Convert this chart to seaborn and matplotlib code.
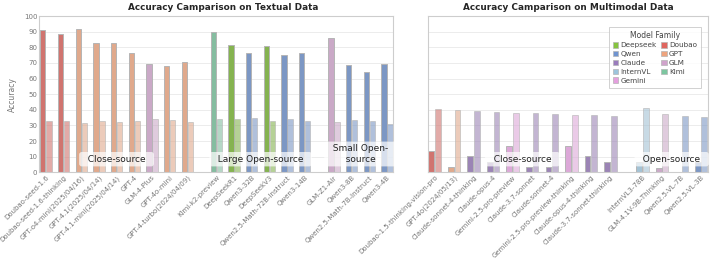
import numpy as np
import pandas as pd
import seaborn as sns
import matplotlib
matplotlib.use("Agg")
import matplotlib.pyplot as plt
from matplotlib.patches import Patch

sns.set_theme(style="whitegrid")
plt.rcParams["font.family"] = ["DejaVu Sans"]

# ---- textual benchmark ----
text_models = ["Doubao-seed-1.6", "Doubao-seed-1.6-thinking", "GPT-o4-mini(2025/04/16)",
               "GPT-4.1(2025/04/14)", "GPT-4.1-mini(2025/04/14)", "GPT-4", "GLM-4-Plus",
               "GPT-4o-mini", "GPT-4-turbo(2024/04/09)",
               "Kimi-k2-preview", "DeepSeekR1", "Qwen3-32B", "DeepSeekV3",
               "Qwen2.5-Math-72B-Instruct", "Qwen3-14B",
               "GLM-Z1-Air", "Qwen3-8B", "Qwen2.5-Math-7B-Instruct", "Qwen3-4B"]
text_family = ["Doubao", "Doubao", "GPT", "GPT", "GPT", "GPT", "GLM", "GPT", "GPT",
               "Kimi", "Deepseek", "Qwen", "Deepseek", "Qwen", "Qwen",
               "GLM", "Qwen", "Qwen", "Qwen"]
text_group = [0] * 9 + [1] * 6 + [2] * 4
text_dark = [90.8, 88.5, 91.7, 82.5, 82.5, 76.1, 69.5, 68.2, 70.6,
             89.8, 81.4, 76.5, 80.8, 75.0, 76.1,
             85.7, 68.7, 64.2, 69.3]
text_light = [33.0, 33.0, 31.3, 32.6, 32.4, 32.6, 33.9, 33.3, 32.4,
              33.9, 33.9, 34.9, 32.8, 33.9, 33.0,
              32.0, 33.7, 33.0, 30.9]
text_groups = ["Close-source", "Large Open-source", "Small Open-\nsource"]

# ---- multimodal benchmark ----
mm_models = ["Doubao-1.5-thinking-vision-pro", "GPT-4o(2024/05/13)", "Claude-sonnet-4-thinking",
             "Claude-opus-4", "Gemini-2.5-pro-preview", "Claude-3.7-sonnet", "Claude-sonnet-4",
             "Gemini-2.5-pro-preview-thinking", "Claude-opus-4-thinking",
             "Claude-3.7-sonnet-thinking",
             "InternVL3-78B", "GLM-4.1V-9B-Thinking", "Qwen2.5-VL-7B", "Qwen2.5-VL-3B"]
mm_family = ["Doubao", "GPT", "Claude", "Claude", "Gemini", "Claude", "Claude",
             "Gemini", "Claude", "Claude",
             "InternVL", "GLM", "Qwen", "Qwen"]
mm_group = [0] * 10 + [1] * 4
mm_dark = [13.6, 3.6, 10.2, 6.8, 16.8, 3.4, 3.4, 17.0, 10.4, 6.8,
           6.8, 2.5, 0.5, 6.8]
mm_light = [40.5, 40.1, 39.2, 38.8, 37.7, 37.7, 37.5, 36.7, 36.7, 36.0,
            41.3, 37.1, 36.2, 35.2]
mm_groups = ["Close-source", "Open-source"]

family_colors = {
    "Deepseek": "#86c43f", "Doubao": "#e0665f", "Qwen": "#7094d0", "GPT": "#eea47e",
    "Claude": "#9a7cbd", "GLM": "#d0a3cb", "InternVL": "#9cc4dc", "Kimi": "#7cc6a0",
    "Gemini": "#e59fdf",
}
legend_order = ["Deepseek", "Qwen", "Claude", "InternVL", "Gemini",
                "Doubao", "GPT", "GLM", "Kimi"]

GAP = 0.65
OFF = 0.17
EDGE = "#b5b5b5"
TXT = "#777777"


def draw(ax, models, family, groups, dark, light, group_names, title, title_x=0.5):
    pos = np.arange(len(models)) + GAP * np.asarray(groups)
    df = pd.DataFrame({"pos": pos, "family": family, "dark": dark, "light": light})
    kw = dict(hue="family", palette=family_colors, native_scale=True, dodge=False,
              width=0.3, errorbar=None, edgecolor=EDGE, linewidth=0.7,
              legend=False, ax=ax)
    sns.barplot(data=df.assign(x=df["pos"] - OFF), x="x", y="dark", **kw)
    sns.barplot(data=df.assign(x=df["pos"] + OFF), x="x", y="light", alpha=0.6, **kw)

    ax.set_xlim(pos[0] - 0.36, pos[-1] + 0.36)
    ax.set_ylim(0, 100)
    ax.set_yticks(range(0, 101, 10))
    ax.set_xticks(pos)
    ax.set_xticklabels(models, rotation=45, ha="right", rotation_mode="anchor")
    ax.xaxis.grid(False)
    ax.tick_params(axis="both", labelsize=5, labelcolor=TXT, length=0, pad=1.5)
    ax.set_xlabel("")
    ax.set_title(title, fontsize=6.4, fontweight="bold", pad=4, x=title_x)

    for g, name in enumerate(group_names):
        cx = pos[np.asarray(groups) == g].mean()
        label = "\n".join("  " + line + "  " for line in name.split("\n"))
        ax.text(cx, 5.5, label, ha="center", va="bottom", fontsize=6.5, color="#222222",
                bbox=dict(boxstyle="round,pad=0.3", fc="white", ec="none", alpha=0.7),
                zorder=5)
    return pos


fig = plt.figure(figsize=(7.14, 2.69), dpi=100)
ax1 = fig.add_axes([0.0553, 0.3595, 0.4956, 0.581])
ax2 = fig.add_axes([0.599, 0.3595, 0.3926, 0.581])

draw(ax1, text_models, text_family, text_group, text_dark, text_light,
     text_groups, "Accuracy Camparison on Textual Data", title_x=0.52)
ax1.set_ylabel("Accuracy", fontsize=5.5, color=TXT, labelpad=5)

draw(ax2, mm_models, mm_family, mm_group, mm_dark, mm_light,
     mm_groups, "Accuracy Camparison on Multimodal Data")
ax2.set_ylabel("")
ax2.set_yticklabels([])

for ax in (ax1, ax2):
    for s in ax.spines.values():
        s.set_color("#cdcdcd")
        s.set_linewidth(0.8)
    ax.yaxis.grid(True, color="#ececec", linewidth=0.7)

handles = [Patch(facecolor=family_colors[f], edgecolor=EDGE, linewidth=0.5, label=f)
           for f in legend_order]
leg = ax2.legend(handles=handles, title="Model Family", ncol=2, fontsize=5.2,
                 title_fontsize=5.5, loc="upper right", bbox_to_anchor=(0.988, 0.955),
                 frameon=True, fancybox=False, handlelength=0.8, handleheight=0.8,
                 columnspacing=0.6, handletextpad=0.3, labelspacing=0.35, borderpad=0.55)
leg.get_frame().set_edgecolor("#c5c5c5")
leg.get_frame().set_linewidth(0.7)
for t in leg.get_texts():
    t.set_color("#444444")
leg.get_title().set_color("#444444")

fig.savefig("out.png", dpi=100)
